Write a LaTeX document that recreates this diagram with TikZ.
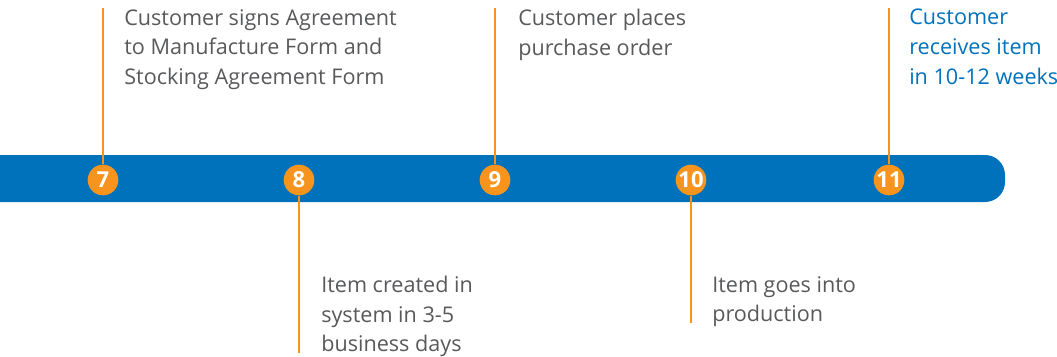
\documentclass[tikz,border=0pt]{standalone}
\usepackage{fontspec}
\setmainfont{Open Sans}
\usetikzlibrary{positioning}
\definecolor{barblue}{HTML}{0072BC}
\definecolor{steporange}{HTML}{F7941D}
\definecolor{textgray}{HTML}{58595B}
\tikzstyle{marker} = [circle, fill=steporange, text=white, font=\bfseries\fontsize{16.5}{16.5}\selectfont, minimum size=23pt, inner sep=0pt]
\tikzstyle{steptext} = [anchor=north west, align=left, inner sep=0pt, text=textgray, font=\fontsize{16.2}{22.2}\selectfont]
\tikzstyle{line} = [draw, steporange, line width=1.5pt]

\begin{document}
\begin{tikzpicture}[x=0.75pt, y=-0.75pt]
        \useasboundingbox (0,0) rectangle (1057,357);
        % Bar
        \fill[barblue, rounded corners=15pt] (-40,155) rectangle (1005,202);

        % Place nodes
        \node [marker] (m7) at (103,180) {7};
        \node [marker] (m8) at (299,180) {8};
        \node [marker] (m9) at (495,180) {9};
        \node [marker] (m10) at (691,180) {10};
        \node [marker] (m11) at (889,180) {11};

        \coordinate (t7) at (103,8);
        \coordinate (t8) at (299,353);
        \coordinate (t9) at (495,8);
        \coordinate (t10) at (691,323);
        \coordinate (t11) at (889,8);

        \node [steptext] (signs) at (124,9) {Customer signs Agreement\\to Manufacture Form and\\Stocking Agreement Form};
        \node [steptext] (created) at (321,276) {Item created in\\system in 3-5\\business days};
        \node [steptext] (order) at (518,9) {Customer places\\purchase order};
        \node [steptext] (production) at (712,276) {Item goes into\\production};
        \node [steptext, text=barblue] (receives) at (909,9) {Customer\\receives item\\in 10-12 weeks};

        % Draw edges
        \path [line] (m7) -- (t7);
        \path [line] (m8) -- (t8);
        \path [line] (m9) -- (t9);
        \path [line] (m10) -- (t10);
        \path [line] (m11) -- (t11);
    \end{tikzpicture}
\end{document}
